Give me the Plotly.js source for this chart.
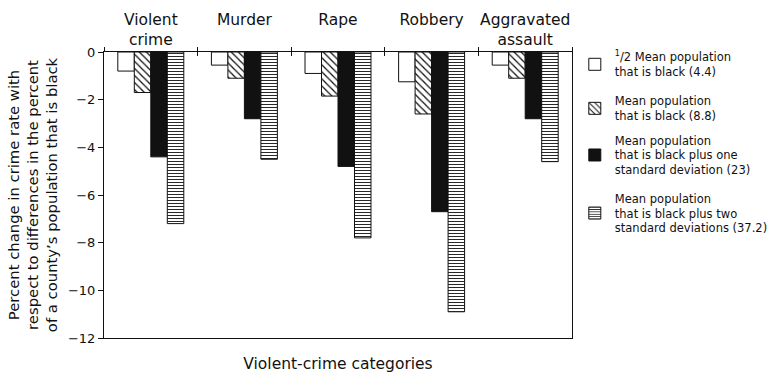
<!DOCTYPE html>
<html><head><meta charset="utf-8">
<script src="https://cdn.plot.ly/plotly-3.0.1.min.js"></script>
<style>html,body{margin:0;padding:0;background:#fff}#chart{width:773px;height:376px}</style>
</head><body><div id="chart"></div>
<script>
const categories = ["Violent crime", "Murder", "Rape", "Robbery", "Aggravated assault"];
const tickLabels = ["Violent<br>crime", "Murder<br>\u00a0", "Rape<br>\u00a0", "Robbery<br>\u00a0", "Aggravated<br>assault"];
const seriesNames = [
  "<sup>1</sup>/2 Mean population<br>that is black (4.4)",
  "Mean population<br>that is black (8.8)",
  "Mean population<br>that is black plus one<br>standard deviation (23)",
  "Mean population<br>that is black plus two<br>standard deviations (37.2)"
];
const halfMean = [-0.8, -0.55, -0.9, -1.25, -0.55];
const mean = [-1.7, -1.1, -1.85, -2.6, -1.1];
const plusOneSD = [-4.4, -2.8, -4.8, -6.7, -2.8];
const plusTwoSD = [-7.2, -4.5, -7.8, -10.9, -4.6];
const yTicks = [0, -2, -4, -6, -8, -10, -12];

const xs = categories.map((c, i) => i);
const bounds = categories.map((c, i) => i - 0.5).concat([categories.length - 0.5]);
const ink = '#111111';
const font = {family: 'DejaVu Sans, sans-serif', color: ink};

const styles = [
  {color: '#ffffff', pattern: {shape: ''}},
  {color: '#ffffff', pattern: {shape: '\\', fgcolor: ink, bgcolor: '#ffffff', size: 5, solidity: 0.25, fillmode: 'replace'}},
  {color: ink, pattern: {shape: ''}},
  {color: '#ffffff', pattern: {shape: '-', fgcolor: ink, bgcolor: '#ffffff', size: 3, solidity: 0.3, fillmode: 'replace'}}
];
const values = [halfMean, mean, plusOneSD, plusTwoSD];
const legendIds = ['legend', 'legend2', 'legend3', 'legend4'];
const legendTops = [1.032, 0.878, 0.741, 0.538];

const traces = values.map((v, k) => ({
  type: 'bar', x: xs, y: v, name: seriesNames[k], legend: legendIds[k],
  customdata: categories,
  marker: Object.assign({line: {color: ink, width: 1}}, styles[k]),
  xaxis: 'x', yaxis: 'y'
}));
['x2', 'x3', 'x4'].forEach(ax => traces.push({type: 'scatter', x: [xs[0]], y: [0], xaxis: ax, yaxis: 'y',
  mode: 'markers', marker: {opacity: 0}, showlegend: false, hoverinfo: 'skip'}));

const xr = [-0.5, categories.length - 0.5];
const layout = {
  width: 773, height: 376,
  margin: {l: 104, r: 201, t: 52, b: 38, autoexpand: false},
  paper_bgcolor: '#fff', plot_bgcolor: '#fff',
  font: Object.assign({size: 14}, font),
  barmode: 'group', bargap: 0.295, bargroupgap: 0,
  showlegend: true,
  xaxis: {range: xr, side: 'top', tickmode: 'array', tickvals: xs, ticktext: tickLabels,
          ticks: '', showline: true, linecolor: ink, linewidth: 1, showgrid: false, zeroline: false,
          tickfont: Object.assign({size: 15.5}, font)},
  xaxis2: {range: xr, overlaying: 'x', side: 'top', tickmode: 'array', tickvals: bounds, showticklabels: false,
           ticks: 'outside', ticklen: 4, tickcolor: ink, showline: false, showgrid: false, zeroline: false},
  xaxis3: {range: xr, overlaying: 'x', side: 'top', tickmode: 'array', tickvals: bounds, showticklabels: false,
           ticks: 'inside', ticklen: 4, tickcolor: ink, showline: false, showgrid: false, zeroline: false},
  xaxis4: {range: xr, overlaying: 'x', side: 'bottom', showticklabels: false, ticks: '',
           showline: true, linecolor: ink, linewidth: 1, showgrid: false, zeroline: false,
           title: {text: 'Violent-crime categories', font: Object.assign({size: 15.5}, font), standoff: 20}},
  yaxis: {range: [-12, 0], tickmode: 'array', tickvals: yTicks, ticks: 'outside', ticklen: 5, tickcolor: ink,
          showline: true, mirror: true, linecolor: ink, linewidth: 1, showgrid: false, zeroline: false,
          tickfont: Object.assign({size: 13}, font),
          title: {text: 'Percent change in crime rate with<br>respect to differences in the percent<br>of a county\u2019s population that is black',
                  font: Object.assign({size: 14.8}, font), standoff: 6}}
};
legendIds.forEach((id, k) => {
  layout[id] = {x: 1.006, y: legendTops[k], xanchor: 'left', yanchor: 'top', valign: 'middle',
                font: Object.assign({size: 11.5}, font), itemwidth: 30, bgcolor: 'rgba(0,0,0,0)'};
});
Plotly.newPlot('chart', traces, layout, {displayModeBar: false, staticPlot: true});
</script></body></html>
